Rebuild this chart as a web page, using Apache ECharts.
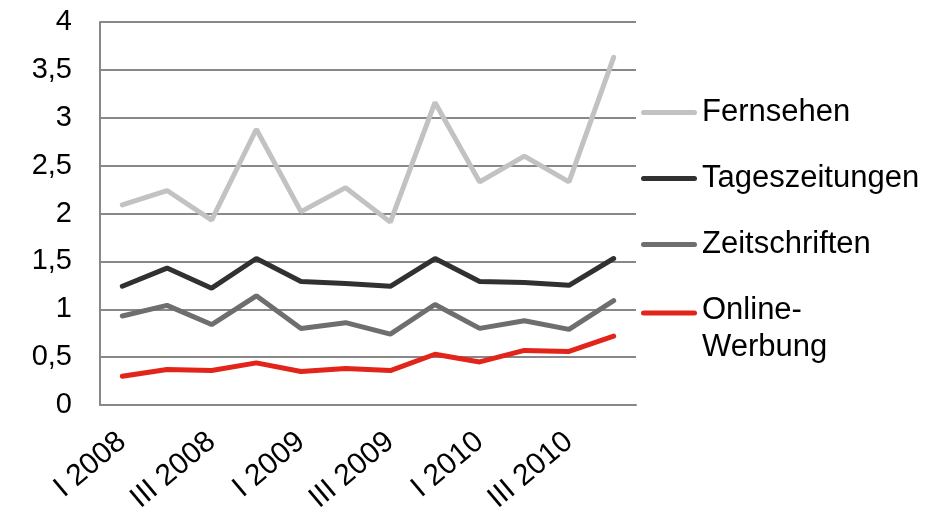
<!DOCTYPE html>
<html>
<head>
<meta charset="utf-8">
<script src="https://cdn.jsdelivr.net/npm/echarts@6/dist/echarts.min.js"></script>
<style>
  html, body { margin: 0; padding: 0; background: #fff; }
  #chart { width: 949px; height: 515px; }
</style>
</head>
<body>
<div id="chart"></div>
<script>
// Quartale (nur jede zweite Beschriftung wird angezeigt)
var quarters = ['I 2008', 'II 2008', 'III 2008', 'IV 2008',
                'I 2009', 'II 2009', 'III 2009', 'IV 2009',
                'I 2010', 'II 2010', 'III 2010', 'IV 2010'];

var fernsehen      = [2.09, 2.24, 1.93, 2.88, 2.02, 2.27, 1.91, 3.16, 2.33, 2.60, 2.33, 3.63];
var tageszeitungen = [1.24, 1.43, 1.22, 1.53, 1.29, 1.27, 1.24, 1.53, 1.29, 1.28, 1.25, 1.53];
var zeitschriften  = [0.93, 1.04, 0.84, 1.14, 0.80, 0.86, 0.74, 1.05, 0.80, 0.88, 0.79, 1.09];
var onlineWerbung  = [0.30, 0.37, 0.36, 0.44, 0.35, 0.38, 0.36, 0.53, 0.45, 0.57, 0.56, 0.72];

var yTicks = { min: 0, max: 4, step: 0.5 };

var font = '"Liberation Sans", Arial, sans-serif';
var gridGray = '#888888';

// Legendensymbol: Balken mit runden Enden in einer 56x37-Box
var iconMid = 'path://M0,0M56,37M2.5,16L53.5,16A2.5,2.5,0,0,1,53.5,21L2.5,21A2.5,2.5,0,0,1,2.5,16Z';
var iconTop = 'path://M0,0M56,37M2.5,0L53.5,0A2.5,2.5,0,0,1,53.5,5L2.5,5A2.5,2.5,0,0,1,2.5,0Z';

var chart = echarts.init(document.getElementById('chart'));

function lineSeries(name, data, color) {
    return {
        name: name,
        type: 'line',
        data: data,
        symbol: 'none',
        color: color,
        lineStyle: { width: 5, color: color, cap: 'round' }
    };
}

var option = {
    animation: false,
    backgroundColor: '#ffffff',
    textStyle: { fontFamily: font },
    grid: {
        left: 100, right: 313, top: 22, bottom: 110,
        outerBoundsMode: 'none'
    },
    legend: {
        orient: 'vertical',
        left: 641,
        top: 94,
        padding: 0,
        itemWidth: 56,
        itemHeight: 37,
        itemGap: 29,
        itemStyle: { borderWidth: 0 },
        textStyle: { fontSize: 31, color: '#000', fontFamily: font, lineHeight: 37 },
        formatter: function (n) {
            return n === 'Online-Werbung' ? 'Online-\nWerbung' : n;
        },
        data: [
            { name: 'Fernsehen', icon: iconMid },
            { name: 'Tageszeitungen', icon: iconMid },
            { name: 'Zeitschriften', icon: iconMid },
            { name: 'Online-Werbung', icon: iconTop }
        ]
    },
    xAxis: {
        type: 'category',
        data: quarters,
        boundaryGap: true,
        axisLine: { show: true, lineStyle: { color: gridGray, width: 2 } },
        axisTick: { show: false },
        axisLabel: {
            interval: 1,
            rotate: 40,
            margin: 33,
            fontSize: 30,
            color: '#000',
            fontFamily: font
        }
    },
    yAxis: {
        type: 'value',
        min: yTicks.min,
        max: yTicks.max,
        interval: yTicks.step,
        axisLine: { show: true, lineStyle: { color: gridGray, width: 2 } },
        axisTick: { show: false },
        splitLine: { lineStyle: { color: gridGray, width: 2 } },
        axisLabel: {
            margin: 28,
            fontSize: 29,
            color: '#000',
            fontFamily: font,
            formatter: function (v) { return String(v).replace('.', ','); }
        }
    },
    series: [
        lineSeries('Fernsehen', fernsehen, '#c2c2c2'),
        lineSeries('Tageszeitungen', tageszeitungen, '#313131'),
        lineSeries('Zeitschriften', zeitschriften, '#6e6e6e'),
        lineSeries('Online-Werbung', onlineWerbung, '#e3241a')
    ]
};

chart.setOption(option);

window.onresize = function () {
    chart.resize();
};
</script>
</body>
</html>
